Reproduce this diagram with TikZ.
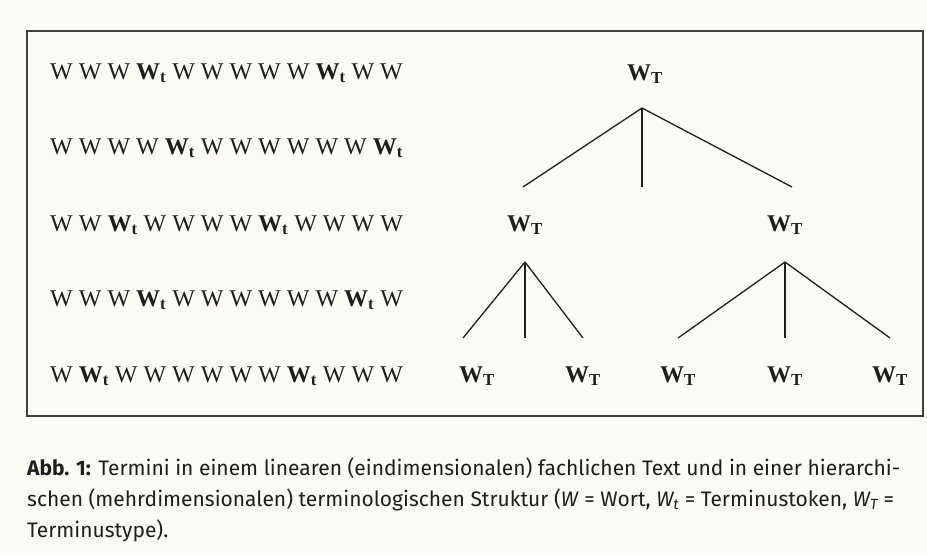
\documentclass[tikz,border=0pt]{standalone}
\usepackage{fontspec}
\setmainfont{Liberation Serif}
\newfontfamily\capfont{Fira Sans}
\usepackage{xcolor}
\usetikzlibrary{positioning}
\definecolor{paper}{RGB}{252,252,247}
\definecolor{ink}{RGB}{30,30,30}
\newcommand{\Wt}{\textbf{W\textsubscript{t}}}
\newcommand{\WT}{\textbf{W\textsubscript{T}}}

\begin{document}
\begin{tikzpicture}[x=1pt,y=-1pt,
  row/.style={anchor=base west,inner sep=0pt,text=ink,font=\fontsize{24}{28}\selectfont},
  term/.style={anchor=base,inner sep=0pt,text=ink,font=\fontsize{24}{28}\selectfont},
  branch/.style={line width=1.3pt,ink},
  caption/.style={anchor=base west,inner sep=0pt,text=ink,font=\capfont\fontsize{21}{25}\selectfont}]
% Paper and frame
\fill[paper] (0,0) rectangle (927,555);
\useasboundingbox (0,0) rectangle (927,555);
\draw[line width=2.6pt,black!75] (27,31) rectangle (923,416);

% Linear text
\node[row] (row1) at (50,79) {W W W \Wt{} W W W W W \Wt{} W W};
\node[row] (row2) at (50,154) {W W W W \Wt{} W W W W W W \Wt};
\node[row] (row3) at (50,231) {W W \Wt{} W W W W \Wt{} W W W W};
\node[row] (row4) at (50,306) {W W W \Wt{} W W W W W W \Wt{} W};
\node[row] (row5) at (50,382) {W \Wt{} W W W W W W \Wt{} W W W};

% Terms of the hierarchy
\node[term] (root) at (645,80) {\WT};
\node[term] (midL) at (525,231) {\WT};
\node[term] (midR) at (785,231) {\WT};
\node[term] (leaf1) at (477,382) {\WT};
\node[term] (leaf2) at (583,382) {\WT};
\node[term] (leaf3) at (678,382) {\WT};
\node[term] (leaf4) at (785,382) {\WT};
\node[term] (leaf5) at (890,382) {\WT};

% Forks and branch ends
\coordinate (rootfork) at (642,108);
\coordinate (rootendL) at (523,187);
\coordinate (rootendM) at (642,187);
\coordinate (rootendR) at (792,187);
\coordinate (forkL) at (525,262);
\coordinate (endL1) at (463,338);
\coordinate (endL2) at (525,338);
\coordinate (endL3) at (583,338);
\coordinate (forkR) at (785,262);
\coordinate (endR1) at (678,338);
\coordinate (endR2) at (785,338);
\coordinate (endR3) at (890,338);

% Branches
\draw[branch] (rootfork) -- (rootendL);
\draw[branch] (rootfork) -- (rootendM);
\draw[branch] (rootfork) -- (rootendR);
\draw[branch] (forkL) -- (endL1);
\draw[branch] (forkL) -- (endL2);
\draw[branch] (forkL) -- (endL3);
\draw[branch] (forkR) -- (endR1);
\draw[branch] (forkR) -- (endR2);
\draw[branch] (forkR) -- (endR3);

% Caption
\node[caption] (cap1) at (27,475) {\textbf{Abb. 1:} Termini in einem linearen (eindimensionalen) fachlichen Text und in einer hierarchi-};
\node[caption] (cap2) at (27,506) {schen (mehrdimensionalen) terminologischen Struktur (\textit{W} = Wort, \textit{W\textsubscript{t}} = Terminustoken, \textit{W\textsubscript{T}} =};
\node[caption] (cap3) at (27,537) {Terminustype).};
\end{tikzpicture}
\end{document}
